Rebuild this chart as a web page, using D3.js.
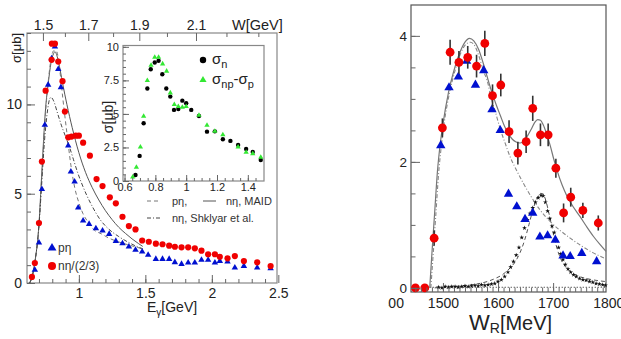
<!DOCTYPE html>
<html>
<head>
<meta charset="utf-8">
<script src="https://cdn.jsdelivr.net/npm/d3@7"></script>
<style>
  body { margin: 0; background: #fff; }
  text { font-family: "Liberation Sans", Arial, sans-serif; }
</style>
</head>
<body>
<script>
// ---------- left panel: eta photoproduction off the deuteron ----------
var pEtaE = [0.669, 0.70, 0.722, 0.744, 0.769, 0.795, 0.82, 0.845, 0.865, 0.92, 0.94, 0.968, 0.995, 1.032, 1.077,
  1.128, 1.178, 1.228, 1.278, 1.328, 1.376, 1.426, 1.476, 1.521, 1.579, 1.629, 1.679, 1.722, 1.772, 1.822, 1.872,
  1.922, 1.972, 2.023, 2.06, 2.118, 2.173, 2.241, 2.341, 2.442];
var pEta = [0.73, 2.26, 5.25, 8.85, 11.1, 12.58, 13.23, 11.97, 10.96, 7.69, 6.23, 5.67, 4.22, 3.49, 3.3,
  3.06, 2.93, 2.74, 2.35, 2.22, 2.03, 1.85, 1.75, 1.57, 1.34, 1.34, 1.34, 1.16, 1.06, 1.14, 1.14,
  1.29, 1.29, 1.14, 1.23, 1.19, 0.86, 0.95, 0.86, 0.82];

var nEtaE = [0.647, 0.669, 0.70, 0.722, 0.75, 0.795, 0.797, 0.82, 0.845, 0.877, 0.895, 0.92, 0.945, 0.977, 1.0,
  1.032, 1.083, 1.133, 1.178, 1.233, 1.278, 1.328, 1.376, 1.426, 1.476, 1.526, 1.579, 1.629, 1.679, 1.722,
  1.772, 1.822, 1.872, 1.922, 1.972, 2.023, 2.06, 2.118, 2.173, 2.241, 2.341, 2.442];
var nEta = [0.34, 1.12, 3.36, 6.8, 10.77, 12.5, 13.4, 13.4, 12.4, 11.3, 9.6, 8.16, 8.2, 8.25, 8.25,
  7.86, 7.13, 5.82, 5.43, 4.8, 4.46, 3.71, 3.19, 3.0, 2.38, 2.31, 2.2, 2.17, 2.09, 2.03,
  2.0, 2.0, 1.94, 1.81, 1.61, 1.61, 1.47, 1.38, 1.51, 1.23, 1.16, 0.95];

// model curves
var maidE = [0.63, 0.65, 0.67, 0.70, 0.72, 0.75, 0.77, 0.79, 0.81, 0.82, 0.84, 0.86, 0.88, 0.91, 0.95, 1.0,
  1.05, 1.1, 1.15, 1.2, 1.25, 1.3, 1.35, 1.4, 1.45, 1.48];
var maidN = [0, 0.4, 1.2, 3.3, 6.0, 9.8, 11.2, 12.3, 12.85, 12.95, 12.6, 11.9, 11.1, 10.0, 8.7, 7.3,
  6.2, 5.35, 4.65, 4.05, 3.55, 3.12, 2.78, 2.47, 2.2, 2.05];
var maidPE = [0.63, 0.65, 0.67, 0.70, 0.72, 0.75, 0.77, 0.79, 0.81, 0.83, 0.845, 0.86, 0.88, 0.91, 0.94, 0.97,
  1.0, 1.03, 1.07, 1.11, 1.17, 1.23, 1.3, 1.38, 1.46, 1.48];
var maidP = [0, 0.4, 1.2, 3.2, 5.8, 9.6, 11.3, 12.5, 13.0, 13.0, 12.6, 11.7, 10.3, 8.4, 6.6, 5.3,
  4.5, 3.9, 3.4, 3.0, 2.75, 2.5, 2.3, 2.12, 1.95, 1.9];
var shkE = [0.63, 0.65, 0.67, 0.70, 0.72, 0.74, 0.76, 0.78, 0.79, 0.81, 0.84, 0.87, 0.90, 0.93, 0.96, 0.99,
  1.02, 1.06, 1.1, 1.16, 1.22, 1.3, 1.38, 1.45, 1.48];
var shkN = [0, 0.4, 1.2, 3.2, 5.5, 7.8, 9.4, 10.3, 10.4, 10.2, 9.5, 8.8, 8.2, 7.6, 6.9, 6.2,
  5.6, 4.9, 4.3, 3.55, 3.05, 2.6, 2.25, 2.0, 1.92];

var leftXTicks = [1, 1.5, 2, 2.5];
var leftYTicks = [0, 5, 10];
var wTicks = [1.5, 1.7, 1.9, 2.1];

// ---------- inset ----------
var sigNE = [0.671, 0.698, 0.724, 0.748, 0.77, 0.796, 0.821, 0.845, 0.871, 0.897, 0.921, 0.949, 0.975, 1.0,
  1.033, 1.083, 1.135, 1.186, 1.238, 1.287, 1.337, 1.389, 1.432, 1.484];
var sigN = [0.45, 1.87, 4.3, 6.89, 8.33, 8.83, 8.96, 7.96, 6.89, 6.29, 5.3, 5.37, 5.99, 5.8,
  5.3, 4.85, 3.68, 3.7, 3.11, 2.99, 2.69, 2.39, 2.16, 1.57];
var sigDiffE = [0.653, 0.677, 0.703, 0.724, 0.748, 0.772, 0.796, 0.821, 0.847, 0.873, 0.897, 0.923, 0.949,
  0.975, 1.0, 1.083, 1.135, 1.186, 1.238, 1.337, 1.389, 1.432, 1.484];
var sigDiff = [0.15, 0.87, 2.39, 4.68, 7.34, 8.48, 9.08, 9.08, 8.58, 8.04, 6.42, 5.55, 5.4,
  5.35, 5.4, 4.75, 4.0, 3.56, 3.3, 2.39, 2.0, 1.89, 1.62];
var insetXTicks = [0.6, 0.8, 1, 1.2, 1.4];
var insetYTicks = [0, 2.5, 5, 7.5, 10];

// ---------- right panel: vs W_R ----------
var redW = [1450, 1467, 1484, 1499, 1513, 1529, 1545, 1561, 1576, 1590, 1605, 1620, 1636, 1651, 1663, 1677,
  1691, 1705, 1719, 1732, 1754, 1782];
var redS = [0.0, 0.0, 0.79, 2.54, 3.74, 3.58, 3.66, 3.52, 3.88, 3.05, 3.22, 2.48, 2.14, 2.32, 2.85, 2.43,
  2.43, 1.9, 1.19, 1.44, 1.23, 1.03];
var redErr = [0.03, 0.03, 0.12, 0.15, 0.2, 0.18, 0.18, 0.18, 0.2, 0.18, 0.18, 0.18, 0.18, 0.18, 0.2, 0.18,
  0.18, 0.15, 0.15, 0.15, 0.12, 0.12];
var blueW = [1496, 1511, 1528, 1543, 1559, 1574, 1589, 1604, 1619, 1634, 1649, 1663, 1676, 1690, 1704, 1718,
  1731, 1752, 1779];
var blueS = [2.26, 3.18, 3.35, 3.6, 3.22, 3.45, 2.83, 2.5, 1.49, 1.29, 1.09, 1.19, 0.81, 0.83, 0.76, 0.51,
  0.5, 0.55, 0.42];
var starW = [1492, 1498, 1504, 1510, 1516, 1522, 1528, 1534, 1540, 1546, 1552, 1558, 1564, 1570, 1576, 1582,
  1588, 1594, 1600, 1606, 1612, 1618, 1623, 1628, 1633, 1638, 1643, 1648, 1653, 1658, 1663, 1668, 1673, 1678,
  1682, 1686, 1690, 1694, 1698, 1702, 1706, 1710, 1714, 1718, 1722, 1727, 1732, 1737, 1742, 1748, 1754, 1760,
  1766, 1772, 1778, 1784, 1790, 1795];
var starS = [0.01, 0.0, 0.02, 0.01, 0.02, 0.02, 0.01, 0.02, 0.03, 0.02, 0.03, 0.04, 0.03, 0.05, 0.04, 0.05,
  0.06, 0.07, 0.1, 0.13, 0.18, 0.25, 0.33, 0.42, 0.52, 0.64, 0.8, 0.95, 1.08, 1.18, 1.27, 1.36, 1.43, 1.47,
  1.46, 1.36, 1.22, 1.1, 0.98, 0.88, 0.75, 0.64, 0.54, 0.45, 0.37, 0.3, 0.25, 0.21, 0.18, 0.15, 0.13, 0.12,
  0.1, 0.09, 0.07, 0.06, 0.05, 0.04];
var fullW = [1476, 1480, 1485, 1490, 1495, 1500, 1510, 1520, 1530, 1540, 1548, 1556, 1565, 1573, 1580, 1589,
  1597, 1604, 1612, 1619, 1626, 1632, 1640, 1647, 1654, 1661, 1667, 1672, 1677, 1682, 1688, 1695, 1701, 1707,
  1716, 1725, 1737, 1749, 1761, 1773, 1785, 1796];
var fullS = [0, 0.55, 1.2, 1.85, 2.28, 2.6, 3.1, 3.45, 3.72, 3.9, 3.96, 3.92, 3.78, 3.57, 3.36, 3.1,
  2.9, 2.74, 2.56, 2.44, 2.36, 2.32, 2.3, 2.33, 2.42, 2.53, 2.63, 2.67, 2.66, 2.59, 2.45, 2.25, 2.05, 1.87,
  1.64, 1.46, 1.28, 1.13, 0.97, 0.82, 0.69, 0.58];
var s11W = [1478, 1482, 1487, 1492, 1497, 1502, 1512, 1522, 1532, 1542, 1550, 1558, 1566, 1574, 1580, 1588,
  1595, 1603, 1612, 1622, 1634, 1646, 1660, 1676, 1694, 1713, 1731, 1749, 1772, 1796];
var s11S = [0, 0.5, 1.15, 1.8, 2.25, 2.6, 3.1, 3.45, 3.72, 3.87, 3.9, 3.84, 3.66, 3.43, 3.3, 3.0,
  2.8, 2.55, 2.32, 2.08, 1.86, 1.66, 1.45, 1.24, 1.06, 0.91, 0.79, 0.68, 0.56, 0.46];
var p11W = [1485, 1500, 1520, 1540, 1560, 1580, 1595, 1608, 1620, 1630, 1640, 1648, 1656, 1664, 1671, 1677,
  1682, 1687, 1692, 1697, 1702, 1708, 1715, 1723, 1733, 1745, 1760, 1778, 1796];
var p11S = [0, 0.01, 0.02, 0.04, 0.06, 0.1, 0.15, 0.21, 0.3, 0.4, 0.56, 0.75, 1.0, 1.26, 1.43, 1.5,
  1.49, 1.38, 1.2, 1.0, 0.8, 0.6, 0.44, 0.33, 0.25, 0.19, 0.15, 0.12, 0.1];
var rightXTicks = [1400, 1500, 1600, 1700, 1800];
var rightYTicks = [0, 2, 4];

var mN = 0.9383; // nucleon mass for the W axis

var svg = d3.select("body").append("svg")
    .attr("width", 621)
    .attr("height", 339);
svg.append("rect").attr("width", 621).attr("height", 339).attr("fill", "#fff");

function zip(a, b) { return a.map(function(v, i) { return [v, b[i]]; }); }

// draws minor + major inward ticks, no domain line
function drawAxis(g, make, scale, major, minor, len, fmt, fs, pad) {
  g.append("g").call(make(scale).tickValues(minor).tickSize(-len / 2).tickFormat(""));
  g.append("g").call(make(scale).tickValues(major).tickSize(-len).tickPadding(pad).tickFormat(fmt));
  g.selectAll(".domain").remove();
  g.selectAll("line").attr("stroke", "#666");
  g.selectAll("text").attr("font-size", fs).attr("fill", "#222")
    .attr("font-family", "Liberation Sans, Arial, sans-serif");
}

function frame(x, y, color) {
  svg.append("rect")
    .attr("x", x.range()[0]).attr("y", y.range()[1])
    .attr("width", x.range()[1] - x.range()[0])
    .attr("height", y.range()[0] - y.range()[1])
    .attr("fill", "none").attr("stroke", color).attr("stroke-width", 1.2);
}

// ================= left main =================
var xL = d3.scaleLinear().domain([0.61, 2.49]).range([27, 277]);
var yL = d3.scaleLinear().domain([0, 14]).range([283, 33]);
frame(xL, yL, "#888");

var lineL = d3.line().curve(d3.curveMonotoneX)
    .x(function(d) { return xL(d[0]); })
    .y(function(d) { return yL(d[1]); });

svg.append("path").datum(zip(maidE, maidN)).attr("d", lineL)
  .attr("fill", "none").attr("stroke", "#555").attr("stroke-width", 1);
svg.append("path").datum(zip(maidPE, maidP)).attr("d", lineL)
  .attr("fill", "none").attr("stroke", "#777").attr("stroke-width", 1).attr("stroke-dasharray", "4,3");
svg.append("path").datum(zip(shkE, shkN)).attr("d", lineL)
  .attr("fill", "none").attr("stroke", "#444").attr("stroke-width", 1).attr("stroke-dasharray", "4,2,1,2");

svg.append("g").selectAll("path").data(zip(pEtaE, pEta)).join("path")
  .attr("transform", function(d) { return "translate(" + xL(d[0]) + "," + yL(d[1]) + ")"; })
  .attr("d", d3.symbol(d3.symbolTriangle).size(18)).attr("fill", "#0010d0");
svg.append("g").selectAll("circle").data(zip(nEtaE, nEta)).join("circle")
  .attr("cx", function(d) { return xL(d[0]); })
  .attr("cy", function(d) { return yL(d[1]); })
  .attr("r", 3.1).attr("fill", "#f00000");

drawAxis(svg.append("g").attr("transform", "translate(0,283)"), d3.axisBottom, xL,
  leftXTicks, d3.range(0.7, 2.5, 0.1), 8, d3.format(""), 14, 5);
drawAxis(svg.append("g").attr("transform", "translate(27,0)"), d3.axisLeft, yL,
  leftYTicks, d3.range(0, 14.01, 1), 8, d3.format(""), 14, 5);

// top axis in W: E = (W^2 - m^2) / 2m is linear in W^2
var wScale = d3.scalePow().exponent(2)
  .domain([Math.sqrt(mN * mN + 2 * mN * 0.61), Math.sqrt(mN * mN + 2 * mN * 2.49)])
  .range([27, 277]);
drawAxis(svg.append("g").attr("transform", "translate(0,33)"), d3.axisTop, wScale,
  wTicks, [1.6, 1.8, 2.0, 2.2, 2.3], 8, d3.format(".1f"), 14, 3);

svg.append("text").attr("x", 232).attr("y", 30).attr("font-size", 14.5).attr("fill", "#222").text("W[GeV]");
svg.append("text").attr("transform", "translate(21,33) rotate(-90)").attr("text-anchor", "end")
  .attr("font-size", 13).attr("fill", "#222").text("σ[μb]");
var eg = svg.append("text").attr("x", 147).attr("y", 312).attr("font-size", 14).attr("fill", "#222");
eg.append("tspan").text("E");
eg.append("tspan").attr("font-size", 10).attr("dy", 4).text("γ");
eg.append("tspan").attr("dy", -4).text("[GeV]");

// data legend
svg.append("path").attr("transform", "translate(52,248)")
  .attr("d", d3.symbol(d3.symbolTriangle).size(34)).attr("fill", "#0010d0");
svg.append("circle").attr("cx", 52).attr("cy", 266).attr("r", 4).attr("fill", "#f00000");
svg.append("text").attr("x", 58).attr("y", 252).attr("font-size", 12).attr("fill", "#333").text("pη");
svg.append("text").attr("x", 58).attr("y", 270).attr("font-size", 12).attr("fill", "#333").text("nη/(2/3)");

// curve legend
svg.append("line").attr("x1", 147).attr("x2", 160).attr("y1", 201).attr("y2", 201)
  .attr("stroke", "#777").attr("stroke-dasharray", "4,3");
svg.append("text").attr("x", 172).attr("y", 205).attr("font-size", 11).attr("fill", "#333").text("pη,");
svg.append("line").attr("x1", 203).attr("x2", 216).attr("y1", 201).attr("y2", 201).attr("stroke", "#555");
svg.append("text").attr("x", 226).attr("y", 205).attr("font-size", 11).attr("fill", "#333").text("nη, MAID");
svg.append("line").attr("x1", 147).attr("x2", 160).attr("y1", 218).attr("y2", 218)
  .attr("stroke", "#444").attr("stroke-dasharray", "4,2,1,2");
svg.append("text").attr("x", 172).attr("y", 222).attr("font-size", 11).attr("fill", "#333").text("nη, Shklyar et al.");

// ================= inset =================
var xI = d3.scaleLinear().domain([0.59, 1.505]).range([123, 264]);
var yI = d3.scaleLinear().domain([0, 10.1]).range([181, 45.5]);
svg.append("rect").attr("x", 123).attr("y", 45.5).attr("width", 141).attr("height", 135.5).attr("fill", "#fff");
frame(xI, yI, "#888");

svg.append("g").selectAll("circle").data(zip(sigNE, sigN)).join("circle")
  .attr("cx", function(d) { return xI(d[0]); })
  .attr("cy", function(d) { return yI(d[1]); })
  .attr("r", 2.2).attr("fill", "#000");
svg.append("g").selectAll("path").data(zip(sigDiffE, sigDiff)).join("path")
  .attr("transform", function(d) { return "translate(" + xI(d[0]) + "," + (yI(d[1]) - 2) + ")"; })
  .attr("d", d3.symbol(d3.symbolTriangle).size(12)).attr("fill", "#33e833");

drawAxis(svg.append("g").attr("transform", "translate(0,181)"), d3.axisBottom, xI,
  insetXTicks, d3.range(0.6, 1.5, 0.05), 6, d3.format(""), 11, 2);
drawAxis(svg.append("g").attr("transform", "translate(123,0)"), d3.axisLeft, yI,
  insetYTicks, d3.range(0, 10.01, 0.5), 6, d3.format(""), 11, 4);

svg.append("text").attr("transform", "translate(113,117) rotate(-90)").attr("text-anchor", "middle")
  .attr("font-size", 14).attr("fill", "#222").text("σ[μb]");

svg.append("circle").attr("cx", 203).attr("cy", 60).attr("r", 3.2).attr("fill", "#000");
svg.append("path").attr("transform", "translate(203,80)")
  .attr("d", d3.symbol(d3.symbolTriangle).size(22)).attr("fill", "#33e833");
var l1 = svg.append("text").attr("x", 212).attr("y", 64).attr("font-size", 15).attr("fill", "#222");
l1.append("tspan").text("σ");
l1.append("tspan").attr("font-size", 11).attr("dy", 4).text("n");
var l2 = svg.append("text").attr("x", 212).attr("y", 84).attr("font-size", 15).attr("fill", "#222");
l2.append("tspan").text("σ");
l2.append("tspan").attr("font-size", 11).attr("dy", 4).text("np");
l2.append("tspan").attr("dy", -4).text("-σ");
l2.append("tspan").attr("font-size", 11).attr("dy", 4).text("p");

// ================= right panel =================
var xR = d3.scaleLinear().domain([1442, 1796]).range([411, 606]);
var yR = d3.scaleLinear().domain([-0.065, 4.49]).range([292, 5]);
frame(xR, yR, "#555");

var lineR = d3.line().curve(d3.curveMonotoneX)
    .x(function(d) { return xR(d[0]); })
    .y(function(d) { return yR(d[1]); });

svg.append("line").attr("x1", xR(1476)).attr("x2", xR(1796)).attr("y1", yR(0.01)).attr("y2", yR(0.01))
  .attr("stroke", "#222").attr("stroke-dasharray", "1,2");
svg.append("path").datum(zip(s11W, s11S)).attr("d", lineR)
  .attr("fill", "none").attr("stroke", "#888").attr("stroke-width", 1.1).attr("stroke-dasharray", "4,2,1,2");
svg.append("path").datum(zip(fullW, fullS)).attr("d", lineR)
  .attr("fill", "none").attr("stroke", "#777").attr("stroke-width", 1.2);
svg.append("path").datum(zip(p11W, p11S)).attr("d", lineR)
  .attr("fill", "none").attr("stroke", "#555").attr("stroke-width", 1).attr("stroke-dasharray", "4,3");

svg.append("g").selectAll("path").data(zip(starW, starS)).join("path")
  .attr("transform", function(d) { return "translate(" + xR(d[0]) + "," + yR(d[1]) + ")"; })
  .attr("d", d3.symbol(d3.symbolStar).size(7)).attr("fill", "#111");

svg.append("g").selectAll("path").data(zip(blueW, blueS)).join("path")
  .attr("transform", function(d) { return "translate(" + xR(d[0]) + "," + yR(d[1]) + ")"; })
  .attr("d", d3.symbol(d3.symbolTriangle).size(38)).attr("fill", "#0010d0");

var reds = svg.append("g").selectAll("g").data(redW.map(function(w, i) {
  return { w: w, s: redS[i], e: redErr[i] };
})).join("g");
reds.append("line")
  .attr("x1", function(d) { return xR(d.w); }).attr("x2", function(d) { return xR(d.w); })
  .attr("y1", function(d) { return yR(d.s - d.e); }).attr("y2", function(d) { return yR(d.s + d.e); })
  .attr("stroke", "#333").attr("stroke-width", 1.6);
reds.append("circle")
  .attr("cx", function(d) { return xR(d.w); })
  .attr("cy", function(d) { return yR(d.s); })
  .attr("r", 4.4).attr("fill", "#f00000");

// clip region is in the axis group's own (translated) coordinates
svg.append("defs").append("clipPath").attr("id", "rclip")
  .append("rect").attr("x", 388).attr("y", -12).attr("width", 240).attr("height", 40);
var gxR = svg.append("g").attr("transform", "translate(0,292)").attr("clip-path", "url(#rclip)");
drawAxis(gxR, d3.axisBottom, xR, rightXTicks, d3.range(1450, 1796, 10), 9, d3.format(""), 14, 6);
gxR.selectAll(".tick").filter(function(d) { return d < 1442 || d > 1796; }).select("line").remove();
drawAxis(svg.append("g").attr("transform", "translate(411,0)"), d3.axisLeft, yR,
  rightYTicks, d3.range(0, 4.49, 0.5), 9, d3.format(""), 13.5, 4);

var wr = svg.append("text").attr("x", 469).attr("y", 330).attr("font-size", 22).attr("fill", "#222");
wr.append("tspan").text("W");
wr.append("tspan").attr("font-size", 14).attr("dy", 3).text("R");
wr.append("tspan").attr("font-size", 20).attr("dy", -3).text("[MeV]");
</script>
</body>
</html>
